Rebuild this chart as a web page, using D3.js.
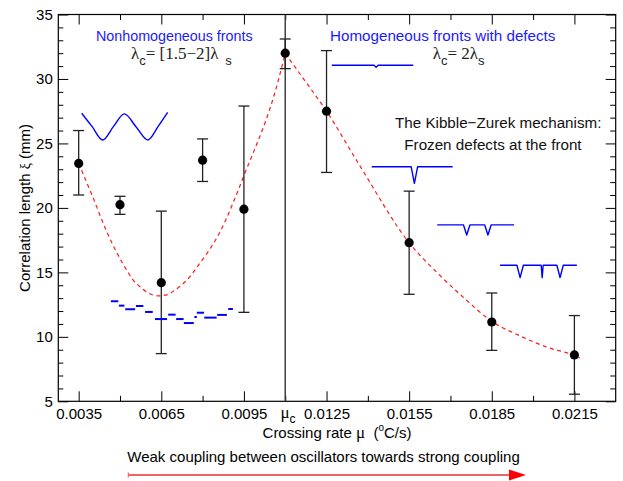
<!DOCTYPE html>
<html>
<head>
<meta charset="utf-8">
<script src="https://cdn.jsdelivr.net/npm/d3@7"></script>
<style>
  body { margin: 0; background: #fff; }
  svg { display: block; font-family: "Liberation Sans", Arial, sans-serif; }
  .serif { font-family: "Liberation Serif", "Times New Roman", serif; }
</style>
</head>
<body>
<div id="chart"></div>
<script>
// measured correlation lengths
const rates   = [0.0035, 0.005, 0.0065, 0.008, 0.0095, 0.011, 0.0125, 0.0155, 0.0185, 0.0215];
const lengths = [23.45, 20.25, 14.2, 23.7, 19.9, 32.0, 27.5, 17.3, 11.15, 8.6];
const errLow  = [21.0, 19.5, 8.7, 22.05, 11.9, 30.8, 22.75, 13.3, 8.95, 5.55];
const errHigh = [26.0, 20.9, 19.75, 25.35, 27.9, 33.1, 32.2, 21.3, 13.4, 11.65];
const muC = 0.011;

// red dashed fits
const fitSlow = [[0.0035, 23.45], [0.00402, 20.8], [0.00449, 18.3], [0.00528, 15.05], [0.00548, 14.4],
  [0.00572, 13.9], [0.00602, 13.4], [0.00639, 13.18], [0.0067, 13.25], [0.007, 13.64], [0.00724, 14.03],
  [0.00754, 14.67], [0.00772, 15.19], [0.00867, 18.3], [0.0095, 22.5], [0.01075, 29.9], [0.011, 32.0]];
const fitFast = [[0.011, 32.0], [0.0116, 30.2], [0.0125, 27.5], [0.0137, 23.3], [0.0155, 17.3],
  [0.0166, 14.8], [0.0175, 13.0], [0.0185, 11.2], [0.0195, 10.1], [0.0205, 9.2], [0.0215, 8.55], [0.0217, 8.35]];

// front sketches (blue)
const waveFront = [[0.00361, 27.34], [0.00399, 26.3], [0.00437, 25.27], [0.00476, 26.3], [0.00516, 27.29],
  [0.00558, 26.3], [0.00601, 25.27], [0.00638, 26.3], [0.00673, 27.4]];
const roughFront = [[0.00467, 0.00494, 12.76], [0.00496, 0.00516, 12.42], [0.00519, 0.00555, 12.14],
  [0.00558, 0.00585, 12.39], [0.00591, 0.00619, 11.93], [0.00627, 0.00671, 11.38], [0.00675, 0.00702, 11.72],
  [0.00704, 0.00731, 11.38], [0.00732, 0.00768, 11.07], [0.0077, 0.00779, 11.54], [0.00779, 0.00805, 11.87],
  [0.00806, 0.00851, 11.49], [0.00853, 0.00888, 11.7], [0.00893, 0.0091, 12.16]];
const defectLevel = [31.06, 23.19, 18.68, 15.55];
const defectBottom = [30.9, 21.91, 17.9, 14.59];
const defectStart = [0.01269, 0.01414, 0.01652, 0.0188];
const defectEnd = [0.01565, 0.01708, 0.01931, 0.02159];
const defectDips = [[0.0143], [0.01569], [0.01759, 0.01836], [0.01953, 0.02033, 0.02098]];

// axes
const xMajor = [0.0035, 0.0065, 0.0095, 0.0125, 0.0155, 0.0185, 0.0215];
const xLabels = ["0.0035", "0.0065", "0.0095", "0.0125", "0.0155", "0.0185", "0.0215"];
const xMinor = [0.005, 0.008, 0.011, 0.014, 0.017, 0.020];
const yMajor = [5, 10, 15, 20, 25, 30, 35];
const yMinor = [6, 7, 8, 9, 11, 12, 13, 14, 16, 17, 18, 19, 21, 22, 23, 24, 26, 27, 28, 29, 31, 32, 33, 34];

const W = 623, H = 481;
const margin = {top: 14.5, right: 7.3, bottom: 79.7, left: 58.3};
const w = W - margin.left - margin.right;
const h = H - margin.top - margin.bottom;

const x = d3.scaleLinear().domain([0.00276, 0.0230]).range([0, w]);
const y = d3.scaleLinear().domain([5, 35]).range([h, 0]);

const svg = d3.select('#chart').append('svg')
  .attr('width', W)
  .attr('height', H);

const g = svg.append('g')
  .attr('transform', `translate(${margin.left},${margin.top})`);

function styleAxis(sel) {
  sel.attr('font-family', null).attr('font-size', null);
  sel.selectAll('.domain').remove();
  sel.selectAll('line').attr('stroke', '#000');
  sel.selectAll('text').attr('fill', '#000').style('font-size', '15px');
}

g.append('g').attr('transform', `translate(0,${h})`)
  .call(d3.axisBottom(x).tickValues(xMajor).tickFormat((d, i) => xLabels[i]).tickSize(-10).tickSizeOuter(0).tickPadding(7.4))
  .call(styleAxis);
g.append('g').attr('transform', `translate(0,${h})`)
  .call(d3.axisBottom(x).tickValues(xMinor).tickFormat('').tickSize(-5.5).tickSizeOuter(0))
  .call(styleAxis);
g.append('g')
  .call(d3.axisTop(x).tickValues(xMajor).tickFormat('').tickSize(-10).tickSizeOuter(0))
  .call(styleAxis);
g.append('g')
  .call(d3.axisTop(x).tickValues(xMinor).tickFormat('').tickSize(-5.5).tickSizeOuter(0))
  .call(styleAxis);
g.append('g')
  .call(d3.axisLeft(y).tickValues(yMajor).tickSize(-10).tickSizeOuter(0).tickPadding(5.5))
  .call(styleAxis);
g.append('g')
  .call(d3.axisLeft(y).tickValues(yMinor).tickFormat('').tickSize(-5).tickSizeOuter(0))
  .call(styleAxis);
g.append('g').attr('transform', `translate(${w},0)`)
  .call(d3.axisRight(y).tickValues(yMajor).tickFormat('').tickSize(-10).tickSizeOuter(0))
  .call(styleAxis);
g.append('g').attr('transform', `translate(${w},0)`)
  .call(d3.axisRight(y).tickValues(yMinor).tickFormat('').tickSize(-5.5).tickSizeOuter(0))
  .call(styleAxis);

g.append('rect')
  .attr('width', w).attr('height', h)
  .attr('fill', 'none').attr('stroke', '#000').attr('stroke-width', 1.2);

// mu_c line
g.append('line')
  .attr('x1', x(muC)).attr('x2', x(muC))
  .attr('y1', 0).attr('y2', h)
  .attr('stroke', '#333').attr('stroke-width', 1.4);

const muLabel = g.append('text')
  .attr('x', x(muC) - 4.8).attr('y', h + 17)
  .attr('fill', '#000');
muLabel.append('tspan').attr('class', 'serif').style('font-size', '17px').text('\u03bc');
muLabel.append('tspan').attr('dy', 4.5).style('font-size', '12px').text('c');

// fits
const line = d3.line().x(d => x(d[0])).y(d => y(d[1])).curve(d3.curveMonotoneX);
g.selectAll('path.fit')
  .data([fitSlow, fitFast])
  .enter().append('path')
  .attr('class', 'fit')
  .attr('d', line)
  .attr('fill', 'none')
  .attr('stroke', '#ff1a1a')
  .attr('stroke-width', 1.2)
  .attr('stroke-dasharray', '4,3.5');

// error bars
const bars = g.selectAll('g.bar')
  .data(rates.map((r, i) => ({r, v: lengths[i], lo: errLow[i], hi: errHigh[i]})))
  .enter().append('g').attr('class', 'bar');

bars.append('line')
  .attr('x1', d => x(d.r)).attr('x2', d => x(d.r))
  .attr('y1', d => y(d.lo)).attr('y2', d => y(d.hi))
  .attr('stroke', '#222').attr('stroke-width', 1.3);
bars.selectAll('line.cap')
  .data(d => [[d.r, d.lo], [d.r, d.hi]])
  .enter().append('line').attr('class', 'cap')
  .attr('x1', d => x(d[0]) - 5.5).attr('x2', d => x(d[0]) + 5.5)
  .attr('y1', d => y(d[1])).attr('y2', d => y(d[1]))
  .attr('stroke', '#222').attr('stroke-width', 1.3);
bars.append('circle')
  .attr('cx', d => x(d.r)).attr('cy', d => y(d.v))
  .attr('r', 4.6).attr('fill', '#000');

// blue sketches
const blue = '#0000ff';
g.append('path')
  .attr('d', d3.line().x(d => x(d[0])).y(d => y(d[1])).curve(d3.curveCatmullRom)(waveFront))
  .attr('fill', 'none').attr('stroke', blue).attr('stroke-width', 1.4);

g.selectAll('line.rough')
  .data(roughFront)
  .enter().append('line').attr('class', 'rough')
  .attr('x1', d => x(d[0])).attr('x2', d => x(d[1]))
  .attr('y1', d => y(d[2])).attr('y2', d => y(d[2]))
  .attr('stroke', blue).attr('stroke-width', 2);

defectLevel.forEach((lv, i) => {
  const half = i === 0 ? 2 : 3.2;
  const pts = [[x(defectStart[i]), y(lv)]];
  defectDips[i].forEach((d, k) => {
    const hw = (i === 3 && k === 1) ? 1 : half;
    pts.push([x(d) - hw, y(lv)], [x(d), y(defectBottom[i])], [x(d) + hw, y(lv)]);
  });
  pts.push([x(defectEnd[i]), y(lv)]);
  g.append('path')
    .attr('d', d3.line()(pts))
    .attr('fill', 'none').attr('stroke', blue).attr('stroke-width', 1.4)
    .attr('stroke-linejoin', 'round');
});

// annotations
svg.append('text').attr('x', 96).attr('y', 41)
  .attr('fill', '#1a1aff').style('font-size', '14.3px')
  .text('Nonhomogeneous fronts');
svg.append('text').attr('x', 330).attr('y', 41.3)
  .attr('fill', '#1a1aff').style('font-size', '15.2px')
  .text('Homogeneous fronts with defects');

function lambdaText(px, parts) {
  const t = svg.append('text').attr('x', px).attr('y', 58.5).attr('fill', '#222');
  t.append('tspan').attr('class', 'serif').style('font-size', '17px').text('\u03bb');
  t.append('tspan').attr('dy', 6).style('font-size', '13px').text('c');
  t.append('tspan').attr('dy', -6).attr('class', 'serif').style('font-size', '17px').text(parts);
  t.append('tspan').attr('dy', 6).style('font-size', '13px').text('s');
}
lambdaText(131, '= [1.5\u22122]\u03bb\u2009\u2009');
lambdaText(432.7, '= 2\u03bb');

svg.append('text').attr('x', 395).attr('y', 128)
  .attr('fill', '#111').style('font-size', '15.2px')
  .text('The Kibble\u2212Zurek mechanism:');
svg.append('text').attr('x', 404.3).attr('y', 150)
  .attr('fill', '#111').style('font-size', '15.2px')
  .text('Frozen defects at the front');

// axis titles
const xTitle = svg.append('text')
  .attr('x', margin.left + w / 2).attr('y', 438.3)
  .attr('text-anchor', 'middle').attr('fill', '#000')
  .style('font-size', '15px').style('white-space', 'pre');
xTitle.append('tspan').text('Crossing rate ');
xTitle.append('tspan').attr('class', 'serif').style('font-size', '17px').text('\u03bc');
xTitle.append('tspan').text('  (');
xTitle.append('tspan').attr('dy', -7).style('font-size', '10px').text('o');
xTitle.append('tspan').attr('dy', 7).text('C/s)');

const yTitle = svg.append('text')
  .attr('transform', `translate(29.5,${margin.top + h / 2}) rotate(-90)`)
  .attr('text-anchor', 'middle').attr('fill', '#000')
  .style('font-size', '15px');
yTitle.append('tspan').text('Correlation length ');
yTitle.append('tspan').attr('class', 'serif').style('font-size', '14px').text('\u03be');
yTitle.append('tspan').text(' (mm)');

// coupling arrow
svg.append('text').attr('x', 127.3).attr('y', 461.5)
  .attr('fill', '#000').style('font-size', '15px')
  .text('Weak coupling between oscillators towards strong coupling');
svg.append('line')
  .attr('x1', 128.3).attr('x2', 512).attr('y1', 475).attr('y2', 475)
  .attr('stroke', '#f26464').attr('stroke-width', 2);
svg.append('line')
  .attr('x1', 128.3).attr('x2', 128.3).attr('y1', 472.5).attr('y2', 477.5)
  .attr('stroke', '#f26464').attr('stroke-width', 1.2);
svg.append('path')
  .attr('d', 'M509,469.5L526,475L509,480.5Z')
  .attr('fill', '#ff0000');
</script>
</body>
</html>
